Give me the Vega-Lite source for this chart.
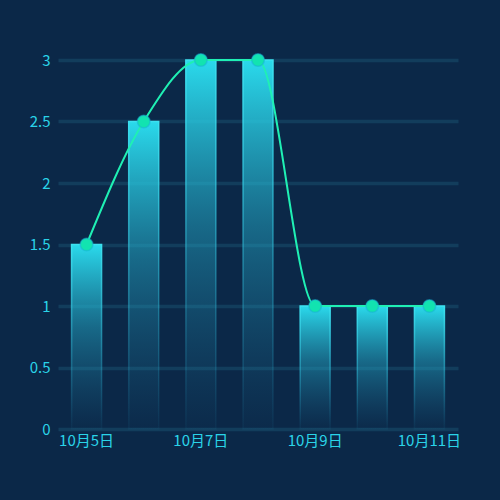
{
  "$schema": "https://vega.github.io/schema/vega-lite/v6.json",
  "width": 400,
  "height": 369,
  "autosize": "none",
  "padding": {"left": 58, "top": 60, "right": 42, "bottom": 71},
  "background": "#0b2848",
  "config": {"view": {"stroke": null}},
  "data": {
    "values": [
      {"day": "10月5日", "value": 1.5},
      {"day": "10月6日", "value": 2.5},
      {"day": "10月7日", "value": 3},
      {"day": "10月8日", "value": 3},
      {"day": "10月9日", "value": 1},
      {"day": "10月10日", "value": 1},
      {"day": "10月11日", "value": 1}
    ]
  },
  "encoding": {
    "x": {
      "field": "day",
      "type": "nominal",
      "sort": null,
      "title": null,
      "scale": {"paddingInner": 0, "paddingOuter": 0},
      "axis": {
        "values": ["10月5日", "10月7日", "10月9日", "10月11日"],
        "labelAngle": 0,
        "domain": false,
        "ticks": false,
        "grid": false,
        "labelPadding": 4,
        "labelColor": "#2ad4e8",
        "labelFontSize": 15,
        "labelFont": "Noto Sans CJK SC"
      }
    },
    "y": {
      "field": "value",
      "type": "quantitative",
      "title": null,
      "scale": {"domain": [0, 3], "nice": false},
      "axis": {
        "values": [0, 0.5, 1, 1.5, 2, 2.5, 3],
        "format": "~g",
        "domain": false,
        "ticks": false,
        "grid": true,
        "gridColor": "#123d5c",
        "gridWidth": 3.5,
        "labelPadding": 8,
        "labelColor": "#2ad4e8",
        "labelFontSize": 15,
        "labelFont": "Noto Sans CJK SC"
      }
    }
  },
  "layer": [
    {
      "mark": {
        "type": "bar",
        "width": 30,
        "strokeWidth": 1.5,
        "fill": {
          "x1": 0, "y1": 0, "x2": 0, "y2": 1,
          "gradient": "linear",
          "stops": [
            {"offset": 0, "color": "rgba(42,218,236,1)"},
            {"offset": 0.45, "color": "rgba(36,170,200,0.5)"},
            {"offset": 1, "color": "rgba(30,120,160,0.03)"}
          ]
        },
        "stroke": {
          "x1": 0, "y1": 0, "x2": 0, "y2": 1,
          "gradient": "linear",
          "stops": [
            {"offset": 0, "color": "rgba(60,225,240,1)"},
            {"offset": 1, "color": "rgba(40,170,210,0.05)"}
          ]
        }
      }
    },
    {
      "mark": {
        "type": "line",
        "interpolate": "monotone",
        "color": "#1ff0b4",
        "strokeWidth": 2
      }
    },
    {
      "mark": {
        "type": "point",
        "filled": true,
        "shape": "circle",
        "size": 160,
        "color": "#12e3b0",
        "opacity": 1,
        "stroke": "#1ab0d8",
        "strokeWidth": 1.5,
        "strokeOpacity": 0.5
      }
    }
  ]
}
